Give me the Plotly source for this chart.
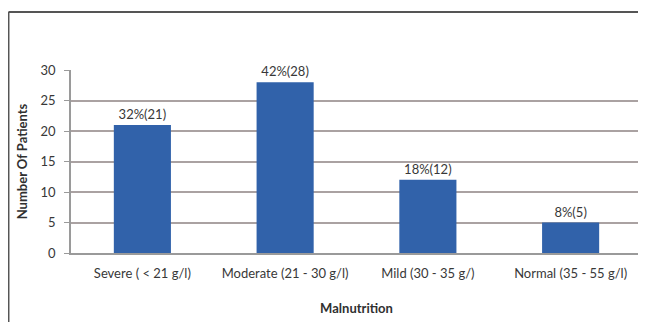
import plotly.graph_objects as go

categories = ["Severe ( < 21 g/l)", "Moderate (21 - 30 g/l)", "Mild (30 - 35 g/)", "Normal (35 - 55 g/l)"]
patients = [21, 28, 12, 5]
labels = ["32%(21)", "42%(28)", "18%(12)", "8%(5)"]

font_family = "Lato, 'Open Sans', sans-serif"

fig = go.Figure(go.Bar(
    x=categories, y=patients, text=labels, textposition="outside",
    textfont=dict(size=13, color="#383838", family=font_family),
    marker=dict(color="#3162AA", line=dict(width=0)),
    cliponaxis=False,
))

fig.update_layout(
    width=638, height=314,
    margin=dict(l=63, r=4, t=62, b=69),
    paper_bgcolor="white", plot_bgcolor="white",
    bargap=0.6, showlegend=False,
    font=dict(family=font_family, size=13, color="#383838"),
    xaxis=dict(
        title=dict(text="<b>Malnutrition</b>", font=dict(size=13, color="#303030"), standoff=24),
        showline=True, linecolor="#9a9a9a", linewidth=1.5,
        ticks="", tickfont=dict(size=13, color="#383838"),
        ticklabelstandoff=8,
    ),
    yaxis=dict(
        title=dict(text="<b>Number Of Patients</b>", font=dict(size=13, color="#303030"), standoff=10),
        range=[0, 30], dtick=5,
        showgrid=True, gridcolor="#aaa2a2", gridwidth=1.5,
        showline=True, linecolor="#9a9a9a", linewidth=1.5,
        ticks="outside", ticklen=5, tickcolor="#9a9a9a",
        tickfont=dict(size=13, color="#383838"),
        ticklabelstandoff=6,
        zeroline=False,
    ),
    shapes=[
        dict(type="line", xref="paper", yref="paper", x0=-0.1095, x1=1.02, y0=1.317, y1=1.317,
             line=dict(color="#555555", width=2)),
        dict(type="line", xref="paper", yref="paper", x0=-0.1095, x1=-0.1095, y0=1.317, y1=-0.4,
             line=dict(color="#555555", width=2)),
    ],
)

fig.write_html("out.html")
